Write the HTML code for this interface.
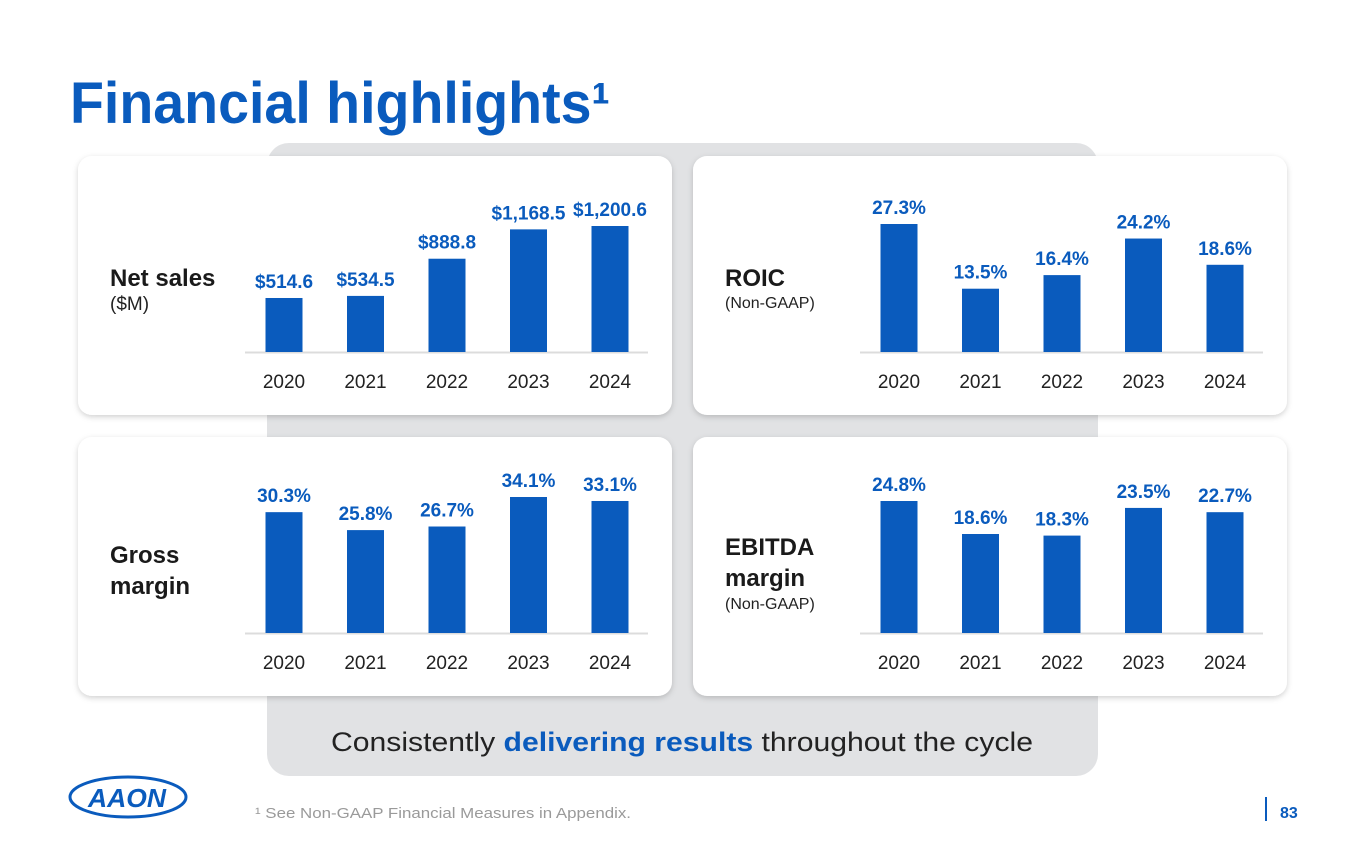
<!DOCTYPE html>
<html><head><meta charset="utf-8"><style>
html,body{margin:0;padding:0;background:#fff;}
body{width:1365px;height:853px;overflow:hidden;font-family:"Liberation Sans Narrow","Liberation Sans",sans-serif;}
svg text{font-family:"Liberation Sans Narrow","Liberation Sans",sans-serif;}
</style></head><body>
<svg id="s" width="1365" height="853" viewBox="0 0 1365 853" xmlns="http://www.w3.org/2000/svg">
<defs>
<filter id="sh" x="-5%" y="-5%" width="110%" height="115%"><feDropShadow dx="0" dy="2" stdDeviation="3" flood-color="#000" flood-opacity="0.18"/></filter>
</defs>
<text x="70" y="123" font-size="58" font-weight="bold" fill="#0a5bbd" textLength="540" lengthAdjust="spacingAndGlyphs" style="font-family:'Liberation Sans',sans-serif">Financial highlights¹</text>
<rect x="267" y="143" width="831" height="633" rx="22" fill="#e1e2e4"/>
<g id="panels"></g>
<text x="682" y="751" font-size="27" fill="#222" text-anchor="middle" textLength="702" lengthAdjust="spacingAndGlyphs">Consistently <tspan fill="#0a5bbd" font-weight="bold">delivering results</tspan> throughout the cycle</text>
<g>
<ellipse cx="128" cy="797" rx="58" ry="20" fill="none" stroke="#0a5bbd" stroke-width="3"/>
<text x="127" y="807" font-size="26" font-weight="bold" font-style="italic" fill="#0a5bbd" text-anchor="middle" textLength="78" lengthAdjust="spacingAndGlyphs">AAON</text>
</g>
<text x="255" y="818" font-size="15" fill="#9a9a9a" textLength="376" lengthAdjust="spacingAndGlyphs">¹ See Non-GAAP Financial Measures in Appendix.</text>
<rect x="1265" y="797" width="2" height="24" fill="#0a5bbd"/>
<text x="1280" y="818" font-size="16" font-weight="bold" fill="#0a5bbd">83</text>
</svg>
<script>
const years = ["2020","2021","2022","2023","2024"];
const netSales = [514.6, 534.5, 888.8, 1168.5, 1200.6];
const netSalesLabels = ["$514.6","$534.5","$888.8","$1,168.5","$1,200.6"];
const roic = [27.3, 13.5, 16.4, 24.2, 18.6];
const grossMargin = [30.3, 25.8, 26.7, 34.1, 33.1];
const ebitdaMargin = [24.8, 18.6, 18.3, 23.5, 22.7];

const NS="http://www.w3.org/2000/svg";
const g=document.getElementById('panels');
function mk(tag,attrs,parent){const e=document.createElementNS(NS,tag);for(const k in attrs)e.setAttribute(k,attrs[k]);(parent||g).appendChild(e);return e;}
const panels=[
 {name:'net-sales',x:78,y:156,vals:netSales,labels:netSalesLabels,scale:126/1200.6,title:['Net sales'],sub:'($M)',ty:[286],sy:310,sbold:false},
 {name:'roic',x:693,y:156,vals:roic,labels:roic.map(v=>v.toFixed(1)+'%'),scale:128/27.3,title:['ROIC'],sub:'(Non-GAAP)',ty:[286],sy:308},
 {name:'gross-margin',x:78,y:437,vals:grossMargin,labels:grossMargin.map(v=>v.toFixed(1)+'%'),scale:136/34.1,title:['Gross','margin'],sub:null,ty:[563,594]},
 {name:'ebitda-margin',x:693,y:437,vals:ebitdaMargin,labels:ebitdaMargin.map(v=>v.toFixed(1)+'%'),scale:132/24.8,title:['EBITDA','margin'],sub:'(Non-GAAP)',ty:[555,586],sy:609}
];
panels.forEach(p=>{
  const grp=mk('g',{});
  
  
  const card=mk('rect',{x:p.x,y:p.y,width:594,height:259,rx:14,fill:'#fff',filter:'url(#sh)'},grp);
  
  
  p.title.forEach((t,i)=>{
    const tx=mk('text',{x:p.x+32,y:p.ty[i],'font-size':24,'font-weight':'bold',fill:'#1a1a1a'},grp);
    tx.textContent=t;
    
    
  });
  if(p.sub){
    const st=mk('text',{x:p.x+32,y:p.sy,'font-size':p.name==='net-sales'?19:16,fill:'#222'},grp);
    st.textContent=p.sub;
    
    
  }
  const base=p.y+196;
  const x0=p.x+206, step=81.5, bw=37;
  const ax=mk('line',{x1:p.x+167,x2:p.x+570,y1:base+0.5,y2:base+0.5,stroke:'#dcdcdc','stroke-width':2},grp);
  
  
  p.vals.forEach((v,i)=>{
    const cx=x0+i*step, h=v*p.scale;
    const r=mk('rect',{x:cx-bw/2,y:base-h,width:bw,height:h,fill:'#0a5bbd'},grp);
    
    
    const l=mk('text',{x:cx,y:base-h-10,'font-size':19,'font-weight':'bold',fill:'#0a5bbd','text-anchor':'middle'},grp);
    l.textContent=p.labels[i];
    
    
    const yl=mk('text',{x:cx,y:base+36,'font-size':19,fill:'#222','text-anchor':'middle'},grp);
    yl.textContent=years[i];
    
    
  });
});
</script>
</body></html>
